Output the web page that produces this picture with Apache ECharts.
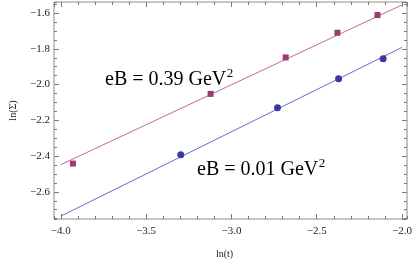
<!DOCTYPE html>
<html>
<head>
<meta charset="utf-8">
<script src="https://cdn.jsdelivr.net/npm/echarts@6/dist/echarts.min.js"></script>
<style>html,body{margin:0;padding:0;background:#fff}#c{width:415px;height:264px}</style>
</head>
<body>
<div id="c"></div>
<script>
// Data
const pinkX = [-3.929, -3.122, -2.682, -2.379, -2.144];
const pinkY = [-2.442, -2.052, -1.848, -1.710, -1.611];
const blueX = [-3.297, -2.730, -2.372, -2.111];
const blueY = [-2.393, -2.129, -1.967, -1.855];
// fitted lines (endpoints at ln(t) = -4.0 and -2.0)
const pinkFitX = [-4.0, -2.0];
const pinkFitY = [-2.448, -1.554];
const blueFitX = [-4.0, -2.0];
const blueFitY = [-2.736, -1.792];
const labelPink = 'eB = 0.39 GeV';
const labelBlue = 'eB = 0.01 GeV';
const supText = '2';

const X_RANGE = [-4.040, -1.971];
const Y_RANGE = [-2.752, -1.538];

const zip = (a, b) => a.map((v, i) => [v, b[i]]);
const fmt = v => (v < 0 ? '\u2212' : '') + Math.abs(v).toFixed(1);
const FONT = '"Liberation Serif", "DejaVu Serif", serif';
const tickCol = '#7a7a7a';

function xAx(pos, step, len, labels) {
  return {
    type: 'value', position: pos, min: X_RANGE[0], max: X_RANGE[1],
    minInterval: step, maxInterval: step,
    axisLine: {show: false}, splitLine: {show: false},
    axisTick: {show: true, inside: true, length: len, lineStyle: {color: tickCol, width: 1}},
    axisLabel: labels ? {show: true, formatter: fmt, fontFamily: FONT, fontSize: 11, color: '#222', margin: 7, showMinLabel: false, showMaxLabel: false} : {show: false},
    name: labels ? 'ln(t)' : '', nameLocation: 'middle', nameGap: 30,
    nameTextStyle: {fontFamily: FONT, fontSize: 10, color: '#222', padding: [0, 12, 0, 0]}
  };
}
function yAx(pos, step, len, labels) {
  return {
    type: 'value', position: pos, min: Y_RANGE[0], max: Y_RANGE[1],
    minInterval: step, maxInterval: step,
    axisLine: {show: false}, splitLine: {show: false},
    axisTick: {show: true, inside: true, length: len, lineStyle: {color: tickCol, width: 1}},
    axisLabel: labels ? {show: true, formatter: fmt, fontFamily: FONT, fontSize: 11, color: '#222', margin: 4, showMinLabel: false, showMaxLabel: false} : {show: false},
    name: labels ? 'ln(\u03A3)' : '', nameLocation: 'middle', nameGap: 36,
    nameTextStyle: {fontFamily: FONT, fontSize: 10, color: '#222'}
  };
}

// measure text widths for the superscript placement
const mctx = document.createElement('canvas').getContext('2d');
function tw(t, size) { mctx.font = size + 'px ' + FONT; return mctx.measureText(t).width; }

function labelGroup(text, left, top, bg) {
  const w = tw(text, 20), ws = tw(supText, 13);
  const children = [];
  if (bg) children.push({type: 'rect', shape: {x: 0, y: 0, width: w + ws + 6, height: 22}, style: {fill: '#fff'}});
  children.push({type: 'text', x: 2, y: 11, style: {text: text, font: '20px ' + FONT, fill: '#000', verticalAlign: 'middle', align: 'left'}});
  children.push({type: 'text', x: 2 + w + 0.5, y: 5, style: {text: supText, font: '13px ' + FONT, fill: '#000', verticalAlign: 'middle', align: 'left'}});
  return {type: 'group', x: left, y: top, z: 100, children: children};
}

const chart = echarts.init(document.getElementById('c'), null, {renderer: 'canvas'});
chart.setOption({
  animation: false,
  backgroundColor: '#fff',
  grid: {left: 47, right: 8, top: 2, bottom: 41, show: true, borderColor: '#8c8c8c', borderWidth: 1, containLabel: false},
  xAxis: [xAx('bottom', 0.5, 5, true), xAx('bottom', 0.1, 3, false), xAx('top', 0.5, 5, false), xAx('top', 0.1, 3, false)],
  yAxis: [yAx('left', 0.2, 5, true), yAx('left', 0.05, 3, false), yAx('right', 0.2, 5, false), yAx('right', 0.05, 3, false)],
  series: [
    {type: 'line', data: zip(pinkFitX, pinkFitY), showSymbol: false, symbol: 'none', lineStyle: {color: '#c8679a', width: 1}, z: 1, silent: true},
    {type: 'line', data: zip(blueFitX, blueFitY), showSymbol: false, symbol: 'none', lineStyle: {color: '#6b6bd0', width: 1}, z: 1, silent: true},
    {type: 'scatter', data: zip(pinkX, pinkY), symbol: 'rect', symbolSize: 6, itemStyle: {color: '#993d71', opacity: 1}, z: 3},
    {type: 'scatter', data: zip(blueX, blueY), symbol: 'circle', symbolSize: 7, itemStyle: {color: '#3a3a9e', opacity: 1}, z: 3}
  ],
  graphic: [
    labelGroup(labelPink, 103, 69, true),
    labelGroup(labelBlue, 195, 159, false)
  ]
});
</script>
</body>
</html>
